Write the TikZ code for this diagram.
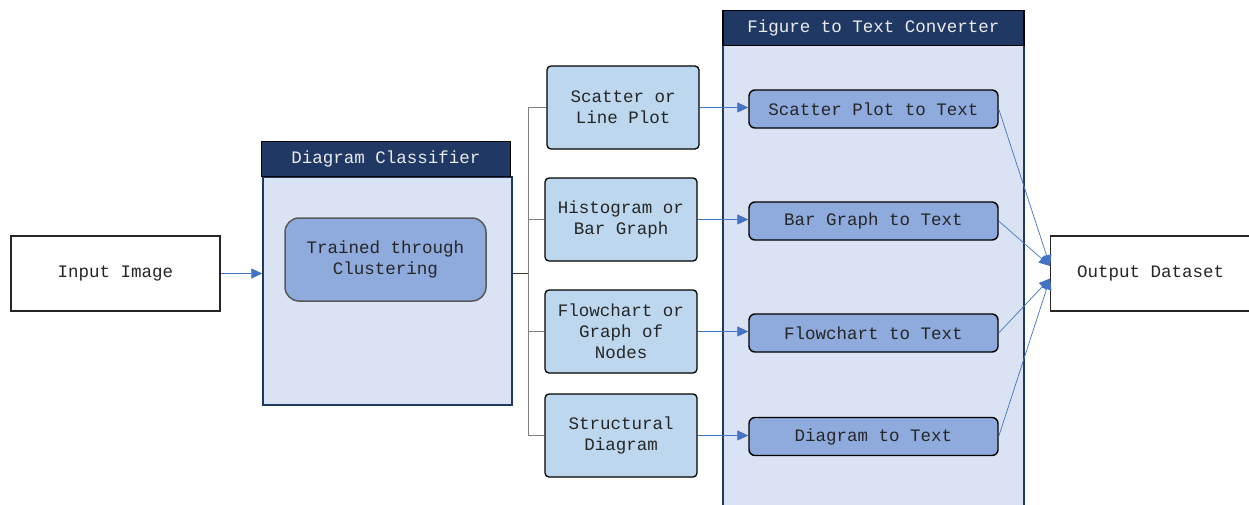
\documentclass[tikz,border=0pt]{standalone}
\usepackage{fontspec}
\setmainfont{Liberation Mono}
\usetikzlibrary{arrows.meta,calc}
\definecolor{navy}{HTML}{1F3864}
\definecolor{panel}{HTML}{DAE3F3}
\definecolor{midblue}{HTML}{8FAADC}
\definecolor{lightblue}{HTML}{BDD7EE}
\definecolor{arrowblue}{HTML}{4472C4}
\definecolor{busgray}{HTML}{7F7F7F}
\tikzset{
  every node/.style={font=\fontsize{17.5}{21}\selectfont, align=center, inner sep=0pt, text=black!85},
  plainbox/.style={draw=black!85, fill=white, line width=1.2pt, minimum width=209pt, minimum height=75pt},
  header/.style={draw=black, fill=navy, text=white!92!black, line width=1.5pt, minimum height=35pt},
  panelbody/.style={draw=navy, fill=panel, line width=1.5pt},
  classbox/.style={draw=black!65, fill=midblue, line width=1.5pt, rounded corners=14pt, minimum width=201pt, minimum height=83pt},
  typebox/.style={draw=black, fill=lightblue, line width=1.3pt, rounded corners=4pt, minimum width=152pt, minimum height=83pt},
  convbox/.style={draw=black, fill=midblue, line width=1.4pt, rounded corners=6pt, minimum width=249pt, minimum height=38pt},
  flow/.style={draw=arrowblue, line width=0.7pt, -{Triangle[length=11pt,width=10pt]}},
  bus/.style={draw=busgray, line width=0.9pt},
}
\begin{document}
\begin{tikzpicture}[x=1pt,y=-1pt]
\useasboundingbox (0,0) rectangle (1249,504);
% input
\node[plainbox] (in) at (115.5,273.5) {Input Image};
% diagram classifier
\node[panelbody, minimum width=249pt, minimum height=228pt] (dc) at (387.5,291) {};
\node[header, minimum width=249pt] (dch) at (386,159) {Diagram Classifier};
\node[classbox] (tc) at (385.5,259.5) {Trained through\\Clustering};
% figure to text converter
\node[panelbody, minimum width=301pt, minimum height=470pt] (fc) at (873.5,280) {};
\node[header, minimum width=301pt] (fch) at (873.5,28) {Figure to Text Converter};
% type boxes
\node[typebox] (s1) at (623,107.5) {Scatter or\\Line Plot};
\node[typebox] (s2) at (621,219.5) {Histogram or\\Bar Graph};
\node[typebox] (s3) at (621,331.5) {Flowchart or\\Graph of\\Nodes};
\node[typebox] (s4) at (621,435.5) {Structural\\Diagram};
% converter boxes
\node[convbox] (c1) at (873.5,109) {Scatter Plot to Text};
\node[convbox] (c2) at (873.5,221) {Bar Graph to Text};
\node[convbox] (c3) at (873.5,333) {Flowchart to Text};
\node[convbox] (c4) at (873.5,436.5) {Diagram to Text};
% output
\node[plainbox, minimum width=202pt, anchor=west] (out) at (1050,273.5) {\hspace*{-2pt}Output Dataset};
% connectors
\draw[flow] (in.east) -- (dc.west |- in.east);
\coordinate (bus) at (528,273);
\draw[draw=black!80, line width=0.9pt] (dc.east |- bus) -- (bus);
\draw[bus] (bus) |- (s1.west);
\draw[bus] (bus) |- (s2.west);
\draw[bus] (bus) |- (s3.west);
\draw[bus] (bus) |- (s4.west);
\draw[flow] (s1.east) -- (c1.west |- s1.east);
\draw[flow] (s2.east) -- (c2.west |- s2.east);
\draw[flow] (s3.east) -- (c3.west |- s3.east);
\draw[flow] (s4.east) -- (c4.west |- s4.east);
\coordinate (o1) at ($(out.west)+(0,-7.5)$);
\coordinate (o2) at ($(out.west)+(0,5)$);
\draw[flow] (c1.east) -- (o1);
\draw[flow] (c2.east) -- (o1);
\draw[flow] (c3.east) -- (o2);
\draw[flow] (c4.east) -- (o2);
\end{tikzpicture}
\end{document}
